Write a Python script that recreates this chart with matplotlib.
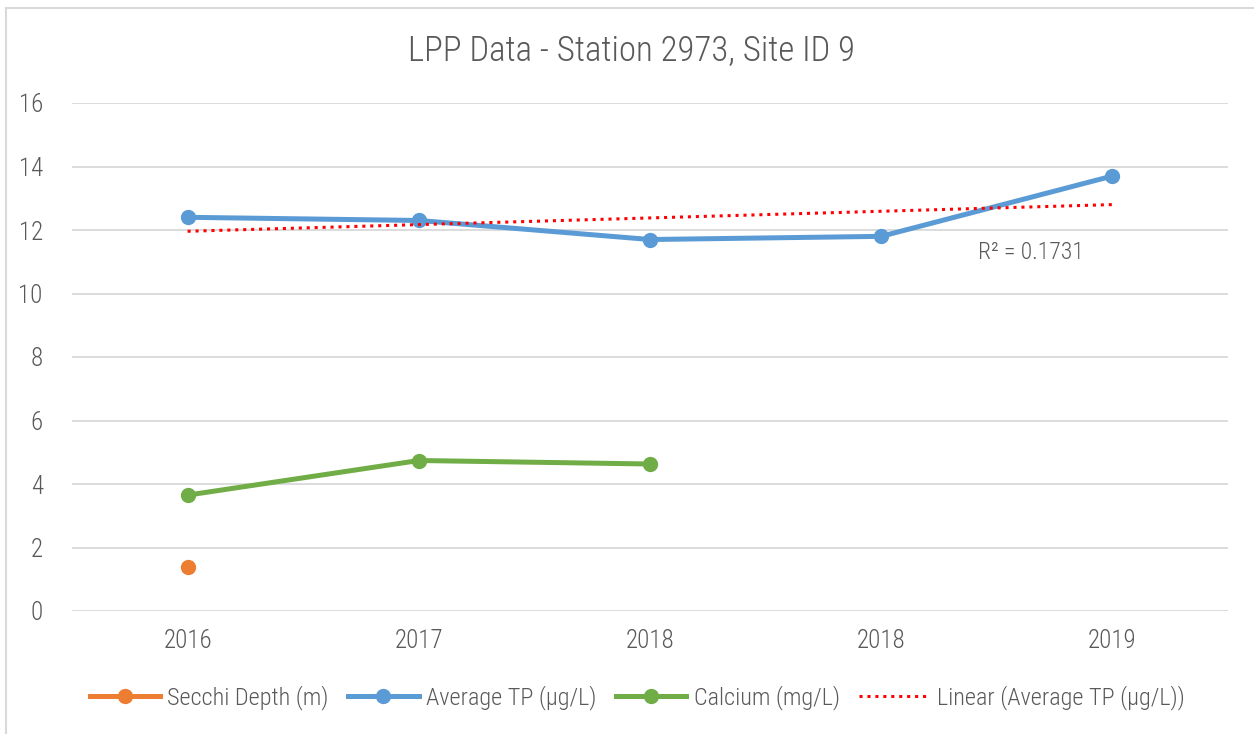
import matplotlib
matplotlib.use("Agg")
import matplotlib.pyplot as plt
from matplotlib.lines import Line2D
import numpy as np
from matplotlib import font_manager

names = {f.name for f in font_manager.fontManager.ttflist}
fam = [n for n in ["Liberation Sans Narrow", "Roboto Condensed", "Roboto", "DejaVu Sans"] if n in names]
plt.rcParams['font.family'] = fam
plt.rcParams['font.weight'] = 'light'

categories = ["2016", "2017", "2018", "2018", "2019"]
secchi = [1.4, None, None, None, None]
avg_tp = [12.4, 12.3, 11.7, 11.8, 13.7]
calcium = [3.65, 4.74, 4.63, None, None]

TXT = "#595959"
C_ORANGE = "#ED7D31"
C_BLUE = "#5B9BD5"
C_GREEN = "#70AD47"

fig = plt.figure(figsize=(12.54, 7.34), dpi=100)
ax = fig.add_axes([72/1254, (734-611)/734, (1228-72)/1254, (611-103)/734])

x = np.arange(len(categories))

def arr(v):
    return np.array([np.nan if a is None else a for a in v], dtype=float)

lw = 3.6
ms = 10
ax.plot(x, arr(secchi), color=C_ORANGE, lw=lw, marker='o', ms=ms, zorder=3)
ax.plot(x, arr(avg_tp), color=C_BLUE, lw=lw, marker='o', ms=ms, zorder=3)
ax.plot(x, arr(calcium), color=C_GREEN, lw=lw, marker='o', ms=ms, zorder=3)

# linear trendline of Average TP
xs = np.arange(1, len(avg_tp) + 1)
ys = np.array(avg_tp)
slope, intercept = np.polyfit(xs, ys, 1)
fit = slope * xs + intercept
r2 = 1 - np.sum((ys - fit) ** 2) / np.sum((ys - ys.mean()) ** 2)
ax.plot(x, fit, color="#FF0000", lw=2.2, linestyle=(0, (1, 1.6)), zorder=4)
ax.text(3.42, 11.3, f"R² = {r2:.4f}", color=TXT, fontsize=17, ha='left', va='center')

ax.set_xlim(-0.5, len(categories) - 0.5)
ax.set_ylim(0, 16)
ax.set_yticks(range(0, 17, 2))
ax.set_xticks(x)
ax.set_xticklabels(categories)
ax.tick_params(axis='both', length=0, labelsize=18, colors=TXT)
ax.tick_params(axis='y', pad=21)
ax.tick_params(axis='x', pad=13)
ax.grid(axis='y', color="#D9D9D9", lw=1.3)
ax.set_axisbelow(True)
for s in ax.spines.values():
    s.set_visible(False)

fig.text(632/1254, 1 - 50/734, "LPP Data - Station 2973, Site ID 9", ha='center', va='center',
         fontsize=25, color=TXT)

handles = [
    Line2D([], [], color=C_ORANGE, lw=lw, marker='o', ms=ms),
    Line2D([], [], color=C_BLUE, lw=lw, marker='o', ms=ms),
    Line2D([], [], color=C_GREEN, lw=lw, marker='o', ms=ms),
    Line2D([], [], color="#FF0000", lw=2.2, linestyle=(0, (1, 1.6))),
]
labels = ["Secchi Depth (m)", "Average TP (µg/L)", "Calcium (mg/L)", "Linear (Average TP (µg/L))"]
fig.legend(handles, labels, loc='center', bbox_to_anchor=(637/1254, 1 - 698/734), ncol=4,
           frameon=False, fontsize=17.5, labelcolor=TXT, handlelength=2.9, columnspacing=0.8,
           handletextpad=0.3)

# chart-area border (left and top)
fig.add_artist(Line2D([5.5/1254, 5.5/1254], [0, 1 - 7.5/734], color="#D9D9D9", lw=1.5,
                      transform=fig.transFigure))
fig.add_artist(Line2D([5.5/1254, 1], [1 - 7.5/734, 1 - 7.5/734], color="#D9D9D9", lw=1.5,
                      transform=fig.transFigure))

fig.savefig("out.png", dpi=100)
